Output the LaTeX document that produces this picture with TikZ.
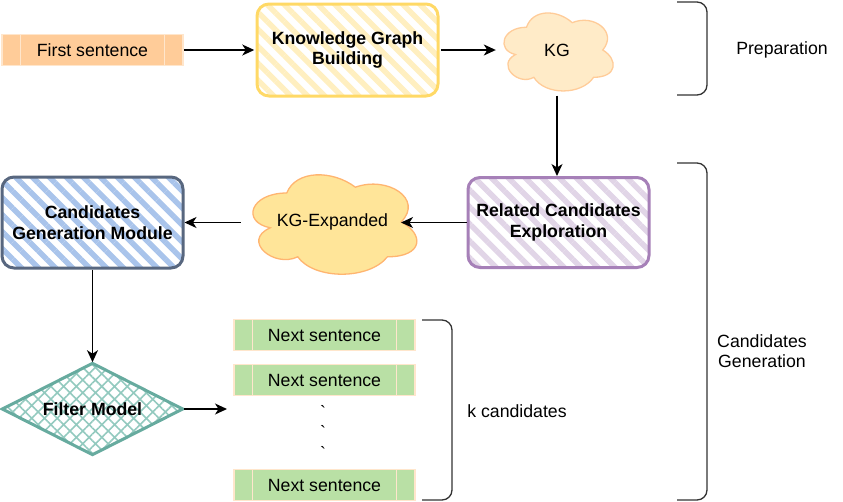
\documentclass[tikz,border=0pt]{standalone}
\usepackage{fontspec}
\setmainfont{Liberation Sans}
\usetikzlibrary{arrows.meta,patterns.meta,shapes.geometric,calc}
\definecolor{fsfill}{HTML}{FFCC99}
\definecolor{boxline}{HTML}{FFE6CC}
\definecolor{ylline}{HTML}{FFD966}
\definecolor{ylhatch}{HTML}{FFEFC0}
\definecolor{kgfill}{HTML}{FFEBC8}
\definecolor{kgline}{HTML}{FFCC99}
\definecolor{kgefill}{HTML}{FFE599}
\definecolor{kgeline}{HTML}{FFB570}
\definecolor{puline}{HTML}{A680B8}
\definecolor{puhatch}{HTML}{E1D5E7}
\definecolor{blline}{HTML}{58677F}
\definecolor{blhatch}{HTML}{A9C4EB}
\definecolor{tlline}{HTML}{67AB9F}
\definecolor{tlhatch}{HTML}{93CABF}
\definecolor{gnfill}{HTML}{B9E0A5}
\definecolor{brk}{HTML}{333333}
\newcommand{\mycloud}[5]{%
\begin{scope}[shift={(#1,#2)},x=#3pt,y=-#4pt]
\draw[#5] (0.25,0.25) .. controls (0.05,0.25) and (0,0.5) .. (0.16,0.55)
 .. controls (0,0.66) and (0.18,0.9) .. (0.31,0.8)
 .. controls (0.4,1) and (0.7,1) .. (0.8,0.8)
 .. controls (1,0.8) and (1,0.6) .. (0.875,0.5)
 .. controls (1,0.3) and (0.8,0.1) .. (0.625,0.2)
 .. controls (0.5,0.05) and (0.3,0.05) .. (0.25,0.25) -- cycle;
\end{scope}}
\tikzset{
  every node/.append style={font=\fontsize{17.7}{20.5}\selectfont},
  boldtxt/.style={font=\fontsize{17.7}{20.5}\selectfont\bfseries},
  sentbox/.style={rectangle, minimum width=181pt, minimum height=31pt, inner sep=0pt,
     draw=boxline, line width=1.5pt,
     path picture={
       \draw[boxline, line width=1.5pt]
         ([xshift=18.5pt]path picture bounding box.north west) -- ([xshift=18.5pt]path picture bounding box.south west)
         ([xshift=-18.5pt]path picture bounding box.north east) -- ([xshift=-18.5pt]path picture bounding box.south east);}},
  rbox/.style={rectangle, rounded corners=12pt, line width=3pt, minimum width=181pt,
     minimum height=90pt, align=center, inner sep=0pt, boldtxt,
     pattern={Lines[angle=-45,distance=12pt,line width=5.5pt]}},
  arr/.style={-{Stealth[length=12pt,width=11pt,inset=3.5pt]}, line width=1.4pt},
  bracket/.style={draw=brk, line width=1.3pt, rounded corners=10pt},
  label/.style={align=center, inner sep=0pt}
}
\begin{document}
\begin{tikzpicture}[x=1pt,y=-1pt]
\fill[white] (0,0) rectangle (843,501);
\useasboundingbox (0,0) rectangle (843,501);

% top row
\node[sentbox, fill=fsfill] (fs) at (92.5,50) {First sentence};
\node[rbox, draw=ylline, pattern color=ylhatch, minimum height=92pt] (kgb) at (347.5,50) {Knowledge Graph\\Building};
\mycloud{496}{4.5}{122}{91}{fill=kgfill, draw=kgline, line width=1.3pt}
\node[minimum width=122pt, minimum height=91pt, inner sep=0pt] (kg) at (557,50) {KG};

% middle row
\node[rbox, draw=puline, pattern color=puhatch] (rce) at (558.5,222.5) {Related Candidates\\Exploration};
\mycloud{241}{164}{183}{116}{fill=kgefill, draw=kgeline, line width=1.3pt}
\node[minimum width=183pt, minimum height=116pt, inner sep=0pt] (kge) at (332.5,222) {KG-Expanded};
\coordinate (kgeR) at (401,222.5);
\node[rbox, draw=blline, pattern color=blhatch, minimum height=91pt] (cgm) at (92.5,222.5) {Candidates\\Generation Module};

% bottom
\node[diamond, aspect=1.97, minimum width=181pt, minimum height=92pt, inner sep=0pt,
      draw=tlline, line width=3pt, pattern={Hatch[angle=45,distance=9pt,line width=1.6pt]},
      pattern color=tlhatch, boldtxt] (fm) at (92.5,409) {Filter Model};
\coordinate (fmT) at (227,409);

\node[sentbox, fill=gnfill] (ns1) at (324.5,335) {Next sentence};
\node[sentbox, fill=gnfill] (ns2) at (324.5,380) {Next sentence};
\node[sentbox, fill=gnfill] (ns3) at (324.5,485) {Next sentence};
\node[inner sep=0pt] (d1) at (323,412) {\textasciigrave};
\node[inner sep=0pt] (d2) at (323,432) {\textasciigrave};
\node[inner sep=0pt] (d3) at (323,453) {\textasciigrave};

% connectors
\draw[arr] (fs) -- (kgb);
\draw[arr] (kgb) -- (kg);
\draw[arr] (kg.south) -- (kg.south |- rce.north);
\draw[arr] (rce.west) -- (kgeR);
\draw[arr] (kge.west |- rce.west) -- (cgm.east);
\draw[arr] (cgm.south) -- (fm.north);
\draw[arr] (fm.east) -- (fmT);

% brackets
\draw[bracket] (677,2) -- (707,2) -- (707,95) -- (677,95);
\draw[bracket] (677,163) -- (707,163) -- (707,500) -- (677,500);
\draw[bracket] (422,320) -- (452,320) -- (452,500) -- (422,500);

% labels
\node[label] (prep) at (782,50) {Preparation};
\node[label] (cg) at (762,351) {Candidates\\Generation};
\node[label] (kc) at (517,411) {k candidates};
\end{tikzpicture}
\end{document}
